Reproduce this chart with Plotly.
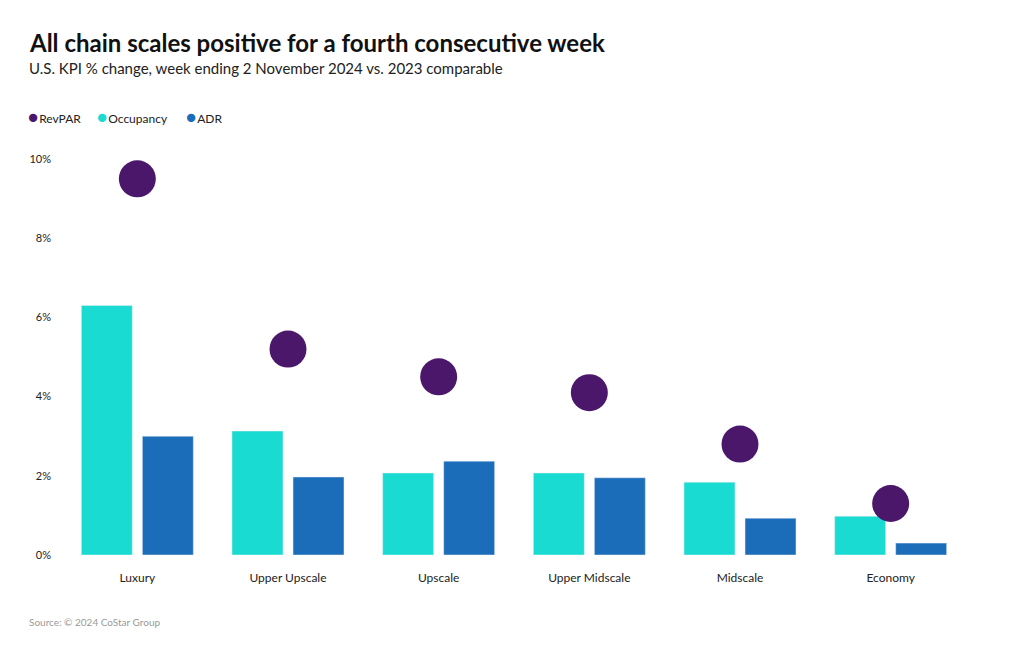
import plotly.graph_objects as go

categories = ["Luxury", "Upper Upscale", "Upscale", "Upper Midscale", "Midscale", "Economy"]
revpar = [9.5, 5.2, 4.5, 4.1, 2.8, 1.3]
occupancy = [6.3, 3.13, 2.07, 2.07, 1.84, 0.98]
adr = [3.0, 1.97, 2.37, 1.95, 0.93, 0.30]
y_ticks = [0, 2, 4, 6, 8, 10]
y_tick_labels = ["0%", "2%", "4%", "6%", "8%", "10%"]

C_REV = "#4b176b"
C_OCC = "#19dbd1"
C_ADR = "#1b6cb9"
FONT = "Source Sans Pro, Lato, Roboto, sans-serif"

W, H = 1020, 650
L, R, T, B = 62, 54, 159, 95

def px_x(x):
    return (x - L) / (W - L - R)

def px_y(y):
    return (H - B - y) / (H - T - B)

fig = go.Figure()
fig.add_trace(go.Bar(x=categories, y=occupancy, name="Occupancy", marker_color=C_OCC,
                     showlegend=False, hoverinfo="x+y"))
fig.add_trace(go.Bar(x=categories, y=adr, name="ADR", marker_color=C_ADR,
                     showlegend=False, hoverinfo="x+y"))
fig.add_trace(go.Scatter(x=categories, y=revpar, name="RevPAR", mode="markers",
                         marker=dict(size=37, color=C_REV), showlegend=False,
                         cliponaxis=False))

fig.update_layout(
    width=W, height=H,
    margin=dict(l=L, r=R, t=T, b=B),
    paper_bgcolor="white", plot_bgcolor="white",
    barmode="group", bargap=0.19, bargroupgap=0.165,
    font=dict(family=FONT, color="#222"),
    xaxis=dict(showgrid=False, zeroline=False, showline=False,
               tickfont=dict(size=12, color="#222"), ticklabelstandoff=14),
    yaxis=dict(range=[0, 10], showgrid=False, zeroline=False, showline=False,
               tickvals=y_ticks, ticktext=y_tick_labels,
               tickfont=dict(size=11, color="#222"), ticklabelstandoff=10),
    showlegend=False,
)

anns = [
    dict(text="<b>All chain scales positive for a fourth consecutive week</b>",
         x=px_x(27), y=px_y(42), font=dict(size=24, color="#111")),
    dict(text="U.S. KPI % change, week ending 2 November 2024 vs. 2023 comparable",
         x=px_x(27), y=px_y(68), font=dict(size=15, color="#222")),
    dict(text="Source: © 2024 CoStar Group",
         x=px_x(27), y=px_y(622), font=dict(size=10, color="#999")),
]
legend_items = [("RevPAR", C_REV, 26), ("Occupancy", C_OCC, 95), ("ADR", C_ADR, 184)]
for name, col, x0 in legend_items:
    anns.append(dict(text=f'<span style="color:{col};font-size:17px">●</span><span style="font-size:4px"> </span>{name}',
                     x=px_x(x0), y=px_y(116), font=dict(size=12, color="#222")))
for a in anns:
    a.update(xref="paper", yref="paper", xanchor="left", yanchor="middle", showarrow=False)
fig.update_layout(annotations=anns)

fig.write_html("out.html", config={"displayModeBar": False},
               post_script="document.body.style.margin='0';")
